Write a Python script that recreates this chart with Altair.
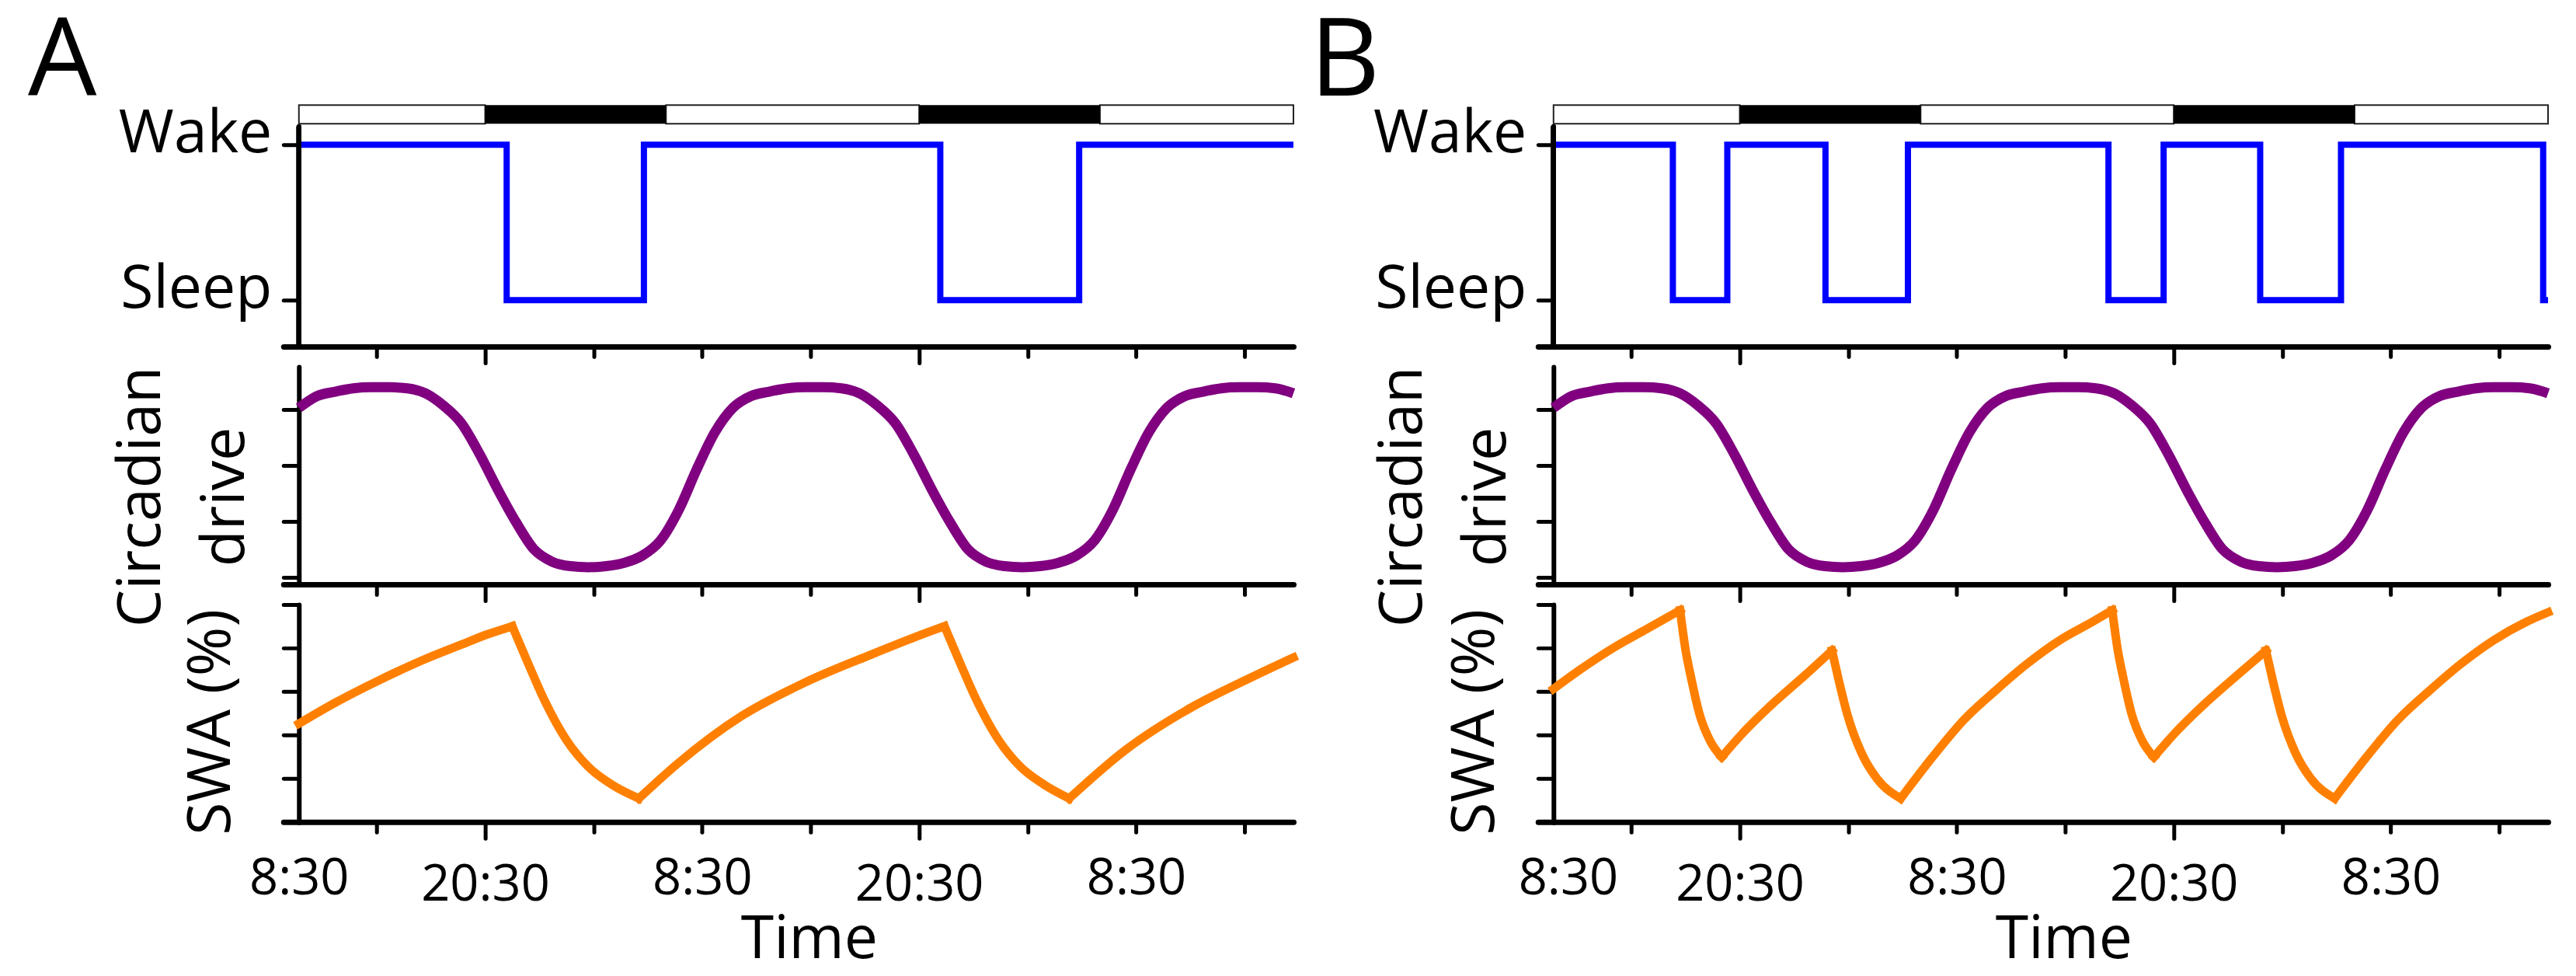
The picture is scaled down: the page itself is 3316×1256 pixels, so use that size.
import altair as alt
import pandas as pd

FONT = "Open Sans"
X_MAX = 55.0  # hours shown on the time axis

# time axis (hours since the start of the record)
TICK_HOURS = [4.3, 10.3, 16.3, 22.3, 28.3, 34.3, 40.3, 46.3, 52.3]
MAJOR_TICK_HOURS = [10.3, 34.3]
TICK_LABELS = ["8:30", "20:30", "8:30", "20:30", "8:30"]
LABEL_HOURS_A = [0.0, 10.3, 22.3, 34.3, 46.3]
LABEL_HOURS_B = [0.8, 10.3, 22.3, 34.3, 46.3]

# dark phase of the light/dark cycle
NIGHT_START = [10.3, 34.3]
NIGHT_END = [20.3, 44.3]

# vigilance state changes (1 = wake, 0 = sleep)
STATE_HOURS_A = [0.0, 11.49, 19.08, 35.47, 43.15, 55.0]
STATE_A = [1, 0, 1, 0, 1, 1]
STATE_HOURS_B = [0.0, 6.60, 9.61, 15.04, 19.60, 30.69, 33.74, 39.08, 43.55, 54.73, 55.0]
STATE_B = [1, 0, 1, 0, 1, 0, 1, 0, 1, 0, 0]

# circadian drive, hourly
DRIVE_HOURS = list(range(56))
DRIVE = [
    3.03, 3.24, 3.32, 3.38, 3.40, 3.40, 3.38, 3.29, 3.07, 2.75, 2.20, 1.57,
    0.99, 0.50, 0.28, 0.20, 0.18, 0.20, 0.26, 0.39, 0.66, 1.20, 1.93, 2.59,
    3.03, 3.24, 3.32, 3.38, 3.40, 3.40, 3.38, 3.29, 3.07, 2.75, 2.20, 1.57,
    0.99, 0.50, 0.28, 0.20, 0.18, 0.20, 0.26, 0.39, 0.66, 1.20, 1.93, 2.59,
    3.03, 3.24, 3.32, 3.38, 3.40, 3.40, 3.38, 3.29,
]

# slow-wave activity, one list per rising / decaying stretch
SWA_A_HOURS = [
    [0.0, 2.0, 4.4, 6.9, 9.0, 10.4, 11.8],
    [11.8, 12.65, 13.6, 14.8, 16.0, 17.3, 18.8],
    [18.8, 21.0, 24.5, 28.0, 31.6, 35.1, 35.7],
    [35.7, 36.55, 37.5, 38.7, 39.9, 41.2, 42.6],
    [42.6, 45.7, 49.3, 52.8, 55.0],
]
SWA_A = [
    [2.26, 2.74, 3.25, 3.73, 4.08, 4.31, 4.50],
    [4.50, 3.67, 2.78, 1.88, 1.27, 0.86, 0.54],
    [0.54, 1.36, 2.44, 3.21, 3.84, 4.41, 4.50],
    [4.50, 3.67, 2.78, 1.88, 1.27, 0.86, 0.54],
    [0.54, 1.65, 2.62, 3.35, 3.78],
]
SWA_B_HOURS = [
    [0.0, 1.5, 3.3, 5.0, 7.0],
    [7.0, 7.3, 7.58, 8.08, 8.64, 9.3],
    [9.3, 10.35, 12.1, 13.9, 15.4],
    [15.4, 15.75, 16.25, 17.05, 17.9, 19.2],
    [19.2, 20.9, 22.7, 24.5, 26.2, 28.0, 29.8, 30.9],
    [30.9, 31.2, 31.48, 31.98, 32.54, 33.2],
    [33.2, 34.25, 36.0, 37.8, 39.4],
    [39.4, 39.75, 40.25, 41.05, 41.9, 43.2],
    [43.2, 44.9, 46.7, 48.5, 50.2, 52.0, 53.8, 55.0],
]
SWA_B = [
    [3.06, 3.51, 4.00, 4.40, 4.87],
    [4.87, 3.96, 3.37, 2.47, 1.88, 1.49],
    [1.49, 1.99, 2.71, 3.37, 3.94],
    [3.94, 3.30, 2.47, 1.57, 0.99, 0.54],
    [0.54, 1.46, 2.35, 3.04, 3.64, 4.18, 4.60, 4.87],
    [4.87, 3.96, 3.37, 2.47, 1.88, 1.49],
    [1.49, 1.99, 2.71, 3.37, 3.94],
    [3.94, 3.30, 2.47, 1.57, 0.99, 0.54],
    [0.54, 1.46, 2.35, 3.04, 3.64, 4.18, 4.60, 4.82],
]

BLUE = "#0000ff"
PURPLE = "#800080"
ORANGE = "#ff8000"

PANEL_W = 1281
SLEEP_H = 311
PANEL_H = 280

SLEEP_DOMAIN = [-0.30, 1.255]
DRIVE_DOMAIN = [-0.125, 3.764]
SWA_DOMAIN = [0, 5]


def js_array(vals):
    return "[" + ", ".join(repr(float(v)) for v in vals) + "]"


X_SCALE = alt.Scale(domain=[0, X_MAX], nice=False, zero=False)


def time_axis(label_hours, show_labels):
    label_expr = "".join(
        f"datum.value == {float(h)!r} ? '{t}' : " for h, t in zip(label_hours, TICK_LABELS)
    ) + "''"
    kw = dict(
        values=sorted(set(TICK_HOURS + label_hours)),
        labels=show_labels,
        tickSize={
            "condition": {"test": f"indexof({js_array(MAJOR_TICK_HOURS)}, datum.value) >= 0", "value": 21},
            "value": 13,
        },
        tickOpacity={
            "condition": {"test": f"indexof({js_array(TICK_HOURS)}, datum.value) < 0", "value": 0},
            "value": 1,
        },
        tickWidth=5,
        tickColor="black",
        tickCap="round",
        domainWidth=7,
        domainColor="black",
        domainCap="round",
        grid=False,
    )
    if show_labels:
        kw.update(
            labelExpr=label_expr,
            labelFontSize=65,
            labelFlush=False,
            labelOverlap=False,
            labelAlign="center",
            labelBaseline="alphabetic",
            labelPadding=80,
            labelLimit=0,
            title="Time",
            titleFontSize=77,
            titleX=657,
            titleY=175,
            titleAlign="center",
            titleBaseline="alphabetic",
        )
    return alt.Axis(**kw)


def value_axis(values, bottom, **extra):
    kw = dict(
        values=values,
        tickSize=20,
        tickWidth={"condition": {"test": f"datum.value == {float(bottom)!r}", "value": 7}, "value": 5},
        tickColor="black",
        tickCap="round",
        domainWidth=6,
        domainColor="black",
        domainCap="round",
        grid=False,
    )
    kw.update(extra)
    return alt.Axis(**kw)


def sleep_panel(hours, states, label_hours, letter, letter_dx):
    states_df = pd.DataFrame({"hour": hours, "state": states})
    light_df = pd.DataFrame({"start": [0.0] + NIGHT_END, "end": NIGHT_START + [X_MAX]})
    dark_df = pd.DataFrame({"start": NIGHT_START, "end": NIGHT_END})
    y_scale = alt.Scale(domain=SLEEP_DOMAIN, nice=False, zero=False)

    # every layer carries the same axis definitions so they merge cleanly
    x_axis = time_axis(label_hours, False)
    state_axis = value_axis(
        [SLEEP_DOMAIN[0], 0, 1], SLEEP_DOMAIN[0],
        domain=False,
        labelExpr="datum.value == 1 ? 'Wake' : datum.value == 0 ? 'Sleep' : ''",
        labelFontSize=77,
        labelPadding=15,
        labelBaseline="alphabetic",
        labelOffset=9,
        labelOverlap=False,
        labelLimit=0,
    )

    def xq(field):
        return alt.X(field, type="quantitative", scale=X_SCALE, axis=x_axis, title=None)

    def yd(value):
        return alt.YDatum(value, type="quantitative", scale=y_scale, axis=state_axis, title=None)

    step = alt.Chart(states_df).mark_line(
        color=BLUE, strokeWidth=8, interpolate="step-after", strokeJoin="miter"
    ).encode(
        x=xq("hour"),
        y=alt.Y("state", type="quantitative", scale=y_scale, axis=state_axis, title=None),
    )
    # light/dark schedule bar above the wake level
    light = alt.Chart(light_df).mark_rect(fill="white", stroke="#222222", strokeWidth=2).encode(
        x=xq("start"), x2="end", y=yd(1.135), y2=alt.Y2Datum(1.255)
    )
    dark = alt.Chart(dark_df).mark_rect(fill="black").encode(
        x=xq("start"), x2="end", y=yd(1.135), y2=alt.Y2Datum(1.255)
    )
    # vertical axis line stops below the schedule bar
    y_line = alt.Chart(states_df).mark_rule(color="black", strokeWidth=6, strokeCap="round").encode(
        x=alt.XDatum(0, type="quantitative", scale=X_SCALE, axis=x_axis, title=None),
        y=yd(SLEEP_DOMAIN[0]),
        y2=alt.Y2Datum(1.115),
    )
    return alt.layer(step, light, dark, y_line).properties(
        width=PANEL_W,
        height=SLEEP_H,
        title=alt.TitleParams(
            letter, anchor="start", frame="group", dx=letter_dx, offset=-130,
            fontSize=140, font=FONT, fontWeight="normal", color="black", baseline="alphabetic",
        ),
    )


def drive_panel(label_hours, title_x):
    df = pd.DataFrame({"hour": DRIVE_HOURS, "drive": DRIVE})
    axis = value_axis(
        [DRIVE_DOMAIN[0], 0, 1, 2, 3], DRIVE_DOMAIN[0],
        labels=False,
        title=["Circadian", "drive"],
        titleFontSize=77,
        titleX=title_x,
        titleY=167,
        titleAngle=270,
        titleAlign="center",
        titleBaseline="alphabetic",
        titleLineHeight=108,
    )
    return alt.Chart(df).mark_line(color=PURPLE, strokeWidth=13, interpolate="monotone").encode(
        x=alt.X("hour", type="quantitative", scale=X_SCALE, axis=time_axis(label_hours, False), title=None),
        y=alt.Y("drive", type="quantitative", scale=alt.Scale(domain=DRIVE_DOMAIN, nice=False, zero=False), axis=axis),
    ).properties(width=PANEL_W, height=PANEL_H)


def swa_panel(hour_pieces, value_pieces, label_hours, title_x):
    rows = []
    for i, (hs, vs) in enumerate(zip(hour_pieces, value_pieces)):
        for h, v in zip(hs, vs):
            rows.append({"hour": h, "swa": v, "piece": i})
    df = pd.DataFrame(rows)
    axis = value_axis(
        [0, 1, 2, 3, 4, 5], 0,
        labels=False,
        title="SWA (%)",
        titleFontSize=77,
        titleX=title_x,
        titleY=151,
        titleAngle=270,
        titleAlign="center",
        titleBaseline="alphabetic",
    )
    return alt.Chart(df).mark_line(
        color=ORANGE, strokeWidth=11, interpolate="monotone", strokeCap="square"
    ).encode(
        x=alt.X("hour", type="quantitative", scale=X_SCALE, axis=time_axis(label_hours, True)),
        y=alt.Y("swa", type="quantitative", scale=alt.Scale(domain=SWA_DOMAIN, nice=False, zero=False), axis=axis),
        detail="piece:N",
    ).properties(width=PANEL_W, height=PANEL_H)


a1 = sleep_panel(STATE_HOURS_A, STATE_A, LABEL_HOURS_A, "A", -349)
b1 = sleep_panel(STATE_HOURS_B, STATE_B, LABEL_HOURS_B, "B", -314)
a2 = drive_panel(LABEL_HOURS_A, -179)
b2 = drive_panel(LABEL_HOURS_B, -170)
a3 = swa_panel(SWA_A_HOURS, SWA_A, LABEL_HOURS_A, -89)
b3 = swa_panel(SWA_B_HOURS, SWA_B, LABEL_HOURS_B, -77)

chart = alt.concat(
    a1, b1, a2, b2, a3, b3,
    columns=2,
    spacing={"row": 26, "column": 335},
    bounds="flush",
).properties(
    padding={"left": 36, "top": 10, "right": 10, "bottom": 10},
    background="white",
).configure_view(
    strokeWidth=0,
).configure_axis(
    labelFont=FONT,
    titleFont=FONT,
    labelColor="black",
    titleColor="black",
    titleFontWeight="normal",
    labelFontWeight="normal",
)

chart.save("out.html", embed_options={"renderer": "svg", "actions": False})
